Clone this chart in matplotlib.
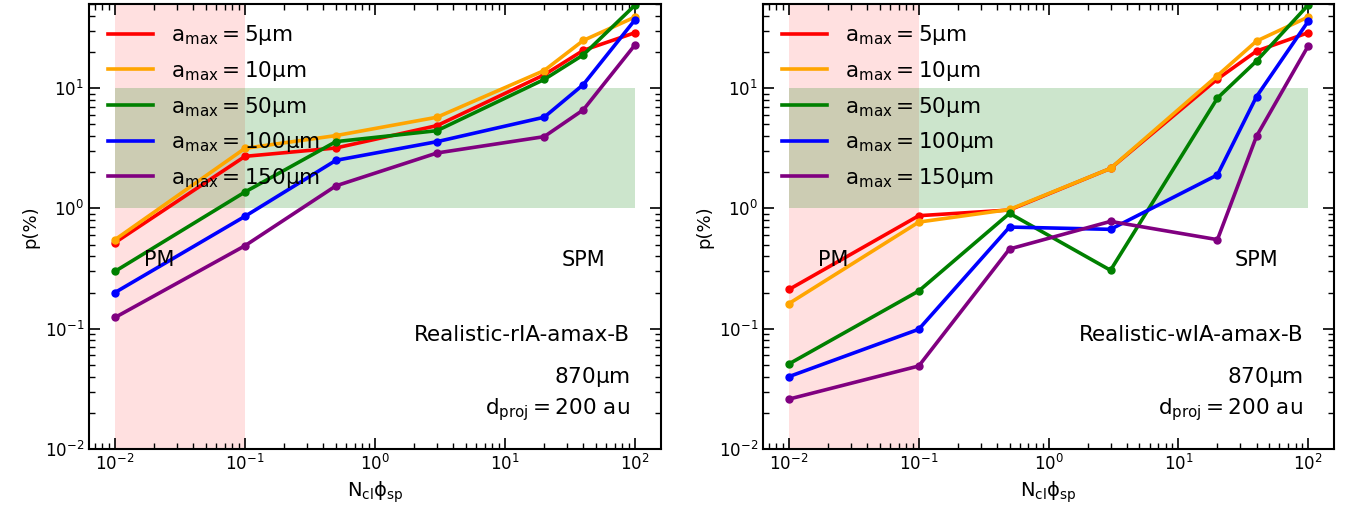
import matplotlib
matplotlib.use("Agg")
import matplotlib.pyplot as plt

plt.rcParams['mathtext.default'] = 'regular'

# x values (N_cl * phi_sp)
x = [0.01, 0.1, 0.5, 3, 20, 40, 100]

labels = [r'$a_{max}=5\mu m$', r'$a_{max}=10\mu m$', r'$a_{max}=50\mu m$',
          r'$a_{max}=100\mu m$', r'$a_{max}=150\mu m$']
colors = ['red', 'orange', 'green', 'blue', 'purple']

# Realistic-rIA-amax-B, p(%)
p_ria_5 = [0.52, 2.71, 3.18, 4.88, 12.9, 20.6, 28.9]
p_ria_10 = [0.55, 3.16, 4.03, 5.73, 14.0, 24.9, 39.0]
p_ria_50 = [0.30, 1.37, 3.59, 4.43, 11.8, 18.9, 49.0]
p_ria_100 = [0.20, 0.86, 2.51, 3.59, 5.73, 10.7, 37.0]
p_ria_150 = [0.124, 0.49, 1.54, 2.89, 3.95, 6.6, 22.9]

# Realistic-wIA-amax-B, p(%)
p_wia_5 = [0.212, 0.87, 0.97, 2.15, 11.9, 20.3, 28.9]
p_wia_10 = [0.162, 0.77, 0.98, 2.15, 12.7, 24.6, 39.0]
p_wia_50 = [0.051, 0.206, 0.91, 0.306, 8.26, 16.8, 49.0]
p_wia_100 = [0.040, 0.099, 0.70, 0.67, 1.9, 8.5, 35.9]
p_wia_150 = [0.026, 0.049, 0.46, 0.78, 0.55, 3.98, 22.4]

panels = [
    ('Realistic-rIA-amax-B', [p_ria_5, p_ria_10, p_ria_50, p_ria_100, p_ria_150]),
    ('Realistic-wIA-amax-B', [p_wia_5, p_wia_10, p_wia_50, p_wia_100, p_wia_150]),
]

fig = plt.figure(figsize=(13.51, 5.17), dpi=100)
positions = [[0.0659, 0.1315, 0.4234, 0.8607], [0.5648, 0.1315, 0.4227, 0.8607]]

for pos, (name, series) in zip(positions, panels):
    ax = fig.add_axes(pos)
    ax.set_xscale('log')
    ax.set_yscale('log')

    # PM region and observed range
    ax.axvspan(0.01, 0.1, color='red', alpha=0.12, lw=0)
    ax.fill_between([0.01, 100], 1, 10, color='green', alpha=0.2, lw=0)

    for vals, c, lab in zip(series, colors, labels):
        ax.plot(x, vals, color=c, lw=2.6, marker='o', ms=5, label=lab)

    ax.set_ylim(0.01, 50)
    ax.set_xlim(10**-2.2, 10**2.2)

    ax.text(0.022, 0.37, 'PM', fontsize=15, ha='center', va='center')
    ax.text(40, 0.37, 'SPM', fontsize=15, ha='center', va='center')
    ax.text(0.946, 0.256, name, transform=ax.transAxes, fontsize=15.5,
            ha='right', va='center')
    ax.text(0.946, 0.162, r'870$\mu$m', transform=ax.transAxes, fontsize=15.5,
            ha='right', va='center')
    ax.text(0.946, 0.088, r'$d_{proj}=200$ au', transform=ax.transAxes,
            fontsize=15.5, ha='right', va='center')

    ax.set_xlabel(r'$N_{cl}\phi_{sp}$', fontsize=14)
    ax.set_ylabel('p(%)', fontsize=13)
    ax.tick_params(which='both', direction='in', top=True, right=True,
                   labelsize=12)
    ax.tick_params(which='major', length=8, width=1.2)
    ax.tick_params(which='minor', length=4, width=1)
    for s in ax.spines.values():
        s.set_linewidth(1.5)

    leg = ax.legend(loc='upper left', frameon=False, fontsize=15.5,
                    handlelength=2.05, handletextpad=0.85,
                    labelspacing=0.54, borderaxespad=0.5)
    for h in leg.legend_handles:
        h.set_marker('')

fig.savefig('out.png', dpi=100)
